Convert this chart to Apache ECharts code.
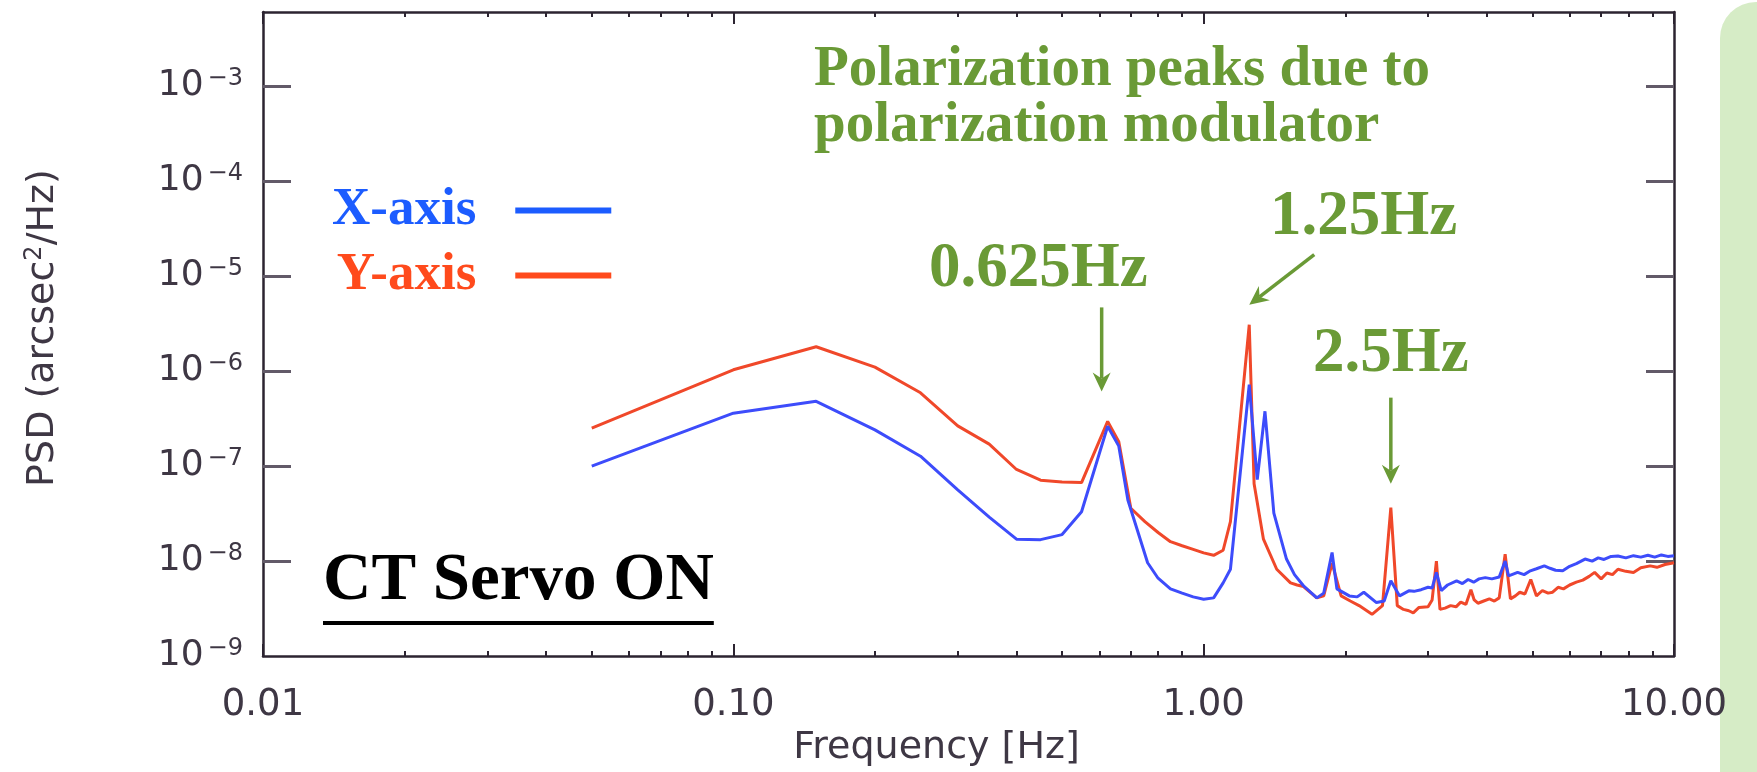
<!DOCTYPE html>
<html>
<head>
<meta charset="utf-8">
<title>Pointing jitter PSD – CT Servo ON</title>
<script src="https://cdn.jsdelivr.net/npm/echarts@6/dist/echarts.min.js"></script>
<style>
  html, body { margin: 0; padding: 0; background: #ffffff; }
  #chart { width: 1757px; height: 772px; }
</style>
</head>
<body>
<div id="chart"></div>
<script>
// ---- data: power spectral density of the pointing error [arcsec^2/Hz] ----
const xAxisFreq = [0.05, 0.10, 0.15, 0.20, 0.25, 0.30, 0.35, 0.40, 0.45, 0.50, 0.55, 0.625, 0.66, 0.69, 0.76, 0.80, 0.85, 0.90, 0.95, 1.00, 1.05, 1.10, 1.14, 1.25, 1.30, 1.35, 1.41, 1.50, 1.56, 1.63, 1.74, 1.80, 1.875, 1.92, 2.04, 2.12, 2.19, 2.33, 2.42, 2.50, 2.61, 2.73, 2.80, 2.90, 3.00, 3.06, 3.125, 3.20, 3.30, 3.45, 3.55, 3.65, 3.75, 3.85, 3.97, 4.10, 4.25, 4.375, 4.45, 4.55, 4.65, 4.80, 4.95, 5.10, 5.30, 5.45, 5.60, 5.80, 6.00, 6.20, 6.47, 6.70, 6.90, 7.10, 7.35, 7.60, 7.90, 8.20, 8.50, 8.80, 9.10, 9.40, 9.70, 10.0];
const xAxisPsd = [1.0e-7, 3.6e-7, 4.8e-7, 2.4e-7, 1.27e-7, 5.6e-8, 2.9e-8, 1.7e-8, 1.68e-8, 1.9e-8, 3.3e-8, 2.62e-7, 1.62e-7, 4.4e-8, 9.6e-9, 6.6e-9, 5.1e-9, 4.6e-9, 4.2e-9, 3.96e-9, 4.1e-9, 5.9e-9, 8.2e-9, 7.2e-7, 7.2e-8, 3.77e-7, 3.2e-8, 1.05e-8, 7.2e-9, 5.5e-9, 4.1e-9, 4.6e-9, 1.23e-8, 5.1e-9, 4.3e-9, 4.2e-9, 4.7e-9, 3.66e-9, 3.8e-9, 6.2e-9, 4.3e-9, 4.86e-9, 4.8e-9, 5.0e-9, 5.3e-9, 5.2e-9, 7.6e-9, 4.9e-9, 5.6e-9, 6.2e-9, 5.8e-9, 6.4e-9, 6.0e-9, 6.5e-9, 6.7e-9, 6.5e-9, 6.8e-9, 1.0e-8, 7.0e-9, 7.3e-9, 7.6e-9, 7.2e-9, 7.9e-9, 8.3e-9, 8.9e-9, 8.4e-9, 8.0e-9, 7.9e-9, 8.8e-9, 9.4e-9, 1.05e-8, 1.0e-8, 1.08e-8, 1.04e-8, 1.12e-8, 1.13e-8, 1.08e-8, 1.14e-8, 1.1e-8, 1.15e-8, 1.1e-8, 1.16e-8, 1.12e-8, 1.14e-8];

const yAxisFreq = [0.05, 0.10, 0.15, 0.20, 0.25, 0.30, 0.35, 0.40, 0.45, 0.50, 0.55, 0.625, 0.66, 0.70, 0.75, 0.80, 0.85, 0.90, 0.95, 1.00, 1.05, 1.10, 1.14, 1.25, 1.28, 1.34, 1.43, 1.53, 1.58, 1.63, 1.74, 1.80, 1.875, 1.96, 2.05, 2.14, 2.28, 2.40, 2.50, 2.58, 2.66, 2.73, 2.79, 2.87, 3.00, 3.06, 3.125, 3.18, 3.26, 3.35, 3.44, 3.52, 3.61, 3.70, 3.76, 3.83, 3.94, 4.05, 4.15, 4.25, 4.375, 4.49, 4.60, 4.70, 4.82, 4.96, 5.10, 5.25, 5.40, 5.52, 5.67, 5.82, 6.00, 6.20, 6.40, 6.60, 6.78, 7.00, 7.20, 7.40, 7.60, 7.90, 8.20, 8.50, 8.90, 9.20, 9.57, 10.0];
const yAxisPsd = [2.5e-7, 1.03e-6, 1.8e-6, 1.1e-6, 5.9e-7, 2.65e-7, 1.7e-7, 9.2e-8, 7.1e-8, 6.8e-8, 6.7e-8, 2.95e-7, 1.8e-7, 3.6e-8, 2.6e-8, 2.0e-8, 1.6e-8, 1.45e-8, 1.33e-8, 1.22e-8, 1.15e-8, 1.3e-8, 2.6e-8, 3.07e-6, 6.5e-8, 1.7e-8, 8.2e-9, 5.9e-9, 5.6e-9, 5.4e-9, 4.1e-9, 4.3e-9, 9.5e-9, 4.3e-9, 3.8e-9, 3.4e-9, 2.75e-9, 3.4e-9, 3.65e-8, 3.4e-9, 3.1e-9, 3.0e-9, 2.85e-9, 3.25e-9, 3.3e-9, 3.9e-9, 1.0e-8, 3.1e-9, 3.2e-9, 3.4e-9, 3.3e-9, 3.7e-9, 3.5e-9, 5.0e-9, 3.9e-9, 3.6e-9, 3.8e-9, 4.0e-9, 3.8e-9, 4.1e-9, 1.18e-8, 4.0e-9, 4.3e-9, 4.7e-9, 4.5e-9, 6.4e-9, 4.3e-9, 4.9e-9, 4.6e-9, 4.7e-9, 5.3e-9, 5.1e-9, 5.6e-9, 6.0e-9, 6.3e-9, 6.9e-9, 7.6e-9, 6.5e-9, 7.5e-9, 7.2e-9, 8.2e-9, 7.8e-9, 7.6e-9, 8.5e-9, 8.9e-9, 8.6e-9, 9.2e-9, 9.6e-9];

// modulator harmonics called out on the plot
const peakFreqs = [0.625, 1.25, 2.5];
const peakLabels = ['0.625Hz', '1.25Hz', '2.5Hz'];

// axis ranges and ticks
const freqRange = [0.01, 10];
const psdRange = [1e-9, 6e-3];
const freqMajor = [0.01, 0.1, 1, 10];
const freqMinorSteps = [2, 3, 4, 5, 6, 7, 8, 9];
const psdDecades = [-9, -8, -7, -6, -5, -4, -3];

const log10 = Math.log10;
const toPairs = (fs, vs) => fs.map((f, i) => [log10(f), log10(vs[i])]);

// minor ticks at 2..9 within each frequency decade (in log10 units)
const minorTicks = [];
freqMajor.slice(0, -1).forEach(d => freqMinorSteps.forEach(m => minorTicks.push(log10(d * m))));

const AXIS_COLOR = '#2c2431';
const LABEL_COLOR = '#3e3744';
const SANS = "'DejaVu Sans', sans-serif";
const SERIF = "'Liberation Serif', 'DejaVu Serif', serif";
const GREEN = '#6a9a36';
const BLUE = '#3d4cfb';
const RED = '#f0482a';

const grid = { left: 263, top: 12, width: 1411, height: 645 };

function freqAxis(position, major, showLabel) {
  return {
    type: 'value', position, min: log10(freqRange[0]), max: log10(freqRange[1]),
    interval: 1, splitLine: { show: false },
    axisLine: { show: major, onZero: false, lineStyle: { color: AXIS_COLOR, width: 2.5 } },
    axisTick: major
      ? { show: true, inside: true, length: 12, lineStyle: { color: AXIS_COLOR, width: 2 },
          customValues: freqMajor.map(log10) }
      : { show: true, inside: true, length: 5, lineStyle: { color: AXIS_COLOR, width: 2 },
          customValues: minorTicks },
    axisLabel: {
      show: showLabel, margin: 31, fontFamily: SANS, fontSize: 37, color: LABEL_COLOR,
      customValues: freqMajor.map(log10),
      formatter: v => Math.pow(10, v).toFixed(2)
    }
  };
}

function psdAxis(position, showLabel) {
  return {
    type: 'value', position, min: log10(psdRange[0]), max: log10(psdRange[1]),
    splitLine: { show: false },
    axisLine: { show: true, onZero: false, lineStyle: { color: AXIS_COLOR, width: 2.5 } },
    axisTick: { show: true, inside: true, length: 28, lineStyle: { color: '#625a68', width: 3 },
                customValues: psdDecades.slice(1) },
    axisLabel: {
      show: showLabel, margin: 20, customValues: psdDecades,
      formatter: v => '{b|10}{s|\u2212' + Math.round(-v) + '}',
      rich: {
        b: { fontFamily: SANS, fontSize: 36, color: LABEL_COLOR, lineHeight: 38 },
        s: { fontFamily: SANS, fontSize: 24, color: LABEL_COLOR, verticalAlign: 'top', lineHeight: 38, padding: [0, 0, 14, 4] }
      }
    },
    name: showLabel ? 'PSD (arcsec{sup|2}/Hz)' : '',
    nameLocation: 'middle', nameGap: 200, nameRotate: 90,
    nameTextStyle: {
      fontFamily: SANS, fontSize: 38, color: LABEL_COLOR, padding: [0, 0, 0, 12],
      rich: { sup: { fontFamily: SANS, fontSize: 24, color: LABEL_COLOR, verticalAlign: 'top', padding: [0, 0, 16, 0] } }
    }
  };
}

const bottomMajor = freqAxis('bottom', true, true);
bottomMajor.name = 'Frequency [Hz]';
bottomMajor.nameLocation = 'middle';
bottomMajor.nameGap = 66;
bottomMajor.nameTextStyle = { fontFamily: SANS, fontSize: 38, color: LABEL_COLOR, padding: [0, 64, 0, 0] };

const option = {
  animation: false,
  backgroundColor: '#ffffff',
  grid,
  xAxis: [bottomMajor, freqAxis('bottom', false, false), freqAxis('top', true, false), freqAxis('top', false, false)],
  yAxis: [psdAxis('left', true), psdAxis('right', false)],
  legend: {
    orient: 'vertical', left: 332, top: 184, padding: 0, itemGap: 12,
    align: 'right', icon: 'rect', itemWidth: 96, itemHeight: 6,
    textStyle: { fontFamily: SERIF, fontWeight: 'bold', fontSize: 53, padding: [0, 34, 0, 0] },
    data: [
      { name: 'X-axis', textStyle: { color: '#1c5cff' }, itemStyle: { color: '#1c5cff' } },
      { name: 'Y-axis', textStyle: { color: '#ff4a1c' }, itemStyle: { color: '#ff4a1c' } }
    ]
  },
  series: [
    { name: 'Y-axis', type: 'line', xAxisIndex: 0, yAxisIndex: 0, data: toPairs(yAxisFreq, yAxisPsd),
      showSymbol: false, symbol: 'none', lineStyle: { color: RED, width: 3 }, itemStyle: { color: RED }, z: 3 },
    { name: 'X-axis', type: 'line', xAxisIndex: 0, yAxisIndex: 0, data: toPairs(xAxisFreq, xAxisPsd),
      showSymbol: false, symbol: 'none', lineStyle: { color: BLUE, width: 3 }, itemStyle: { color: BLUE }, z: 4 }
  ]
};

const chart = echarts.init(document.getElementById('chart'), null, { renderer: 'canvas' });
chart.setOption(option);

// ---- annotations: arrows anchored to the harmonic peaks ----
function peakPixel(freq) {
  // tallest of the two spectra at the harmonic
  const vx = xAxisPsd[xAxisFreq.indexOf(freq)];
  const vy = yAxisPsd[yAxisFreq.indexOf(freq)];
  return chart.convertToPixel({ xAxisIndex: 0, yAxisIndex: 0 }, [log10(freq), log10(Math.max(vx, vy))]);
}

function arrow(x1, y1, x2, y2) {
  const dx = x2 - x1, dy = y2 - y1, len = Math.hypot(dx, dy);
  const ux = dx / len, uy = dy / len, px = -uy, py = ux;
  const headL = 19, headW = 9, notch = 13;
  return [
    { type: 'line', shape: { x1, y1, x2: x2 - ux * notch, y2: y2 - uy * notch },
      style: { stroke: GREEN, lineWidth: 3.5 } },
    { type: 'polygon', shape: { points: [
        [x2, y2],
        [x2 - ux * headL + px * headW, y2 - uy * headL + py * headW],
        [x2 - ux * notch, y2 - uy * notch],
        [x2 - ux * headL - px * headW, y2 - uy * headL - py * headW]
      ] }, style: { fill: GREEN } }
  ];
}

const p0 = peakPixel(peakFreqs[0]);
const p1 = peakPixel(peakFreqs[1]);
const p2 = peakPixel(peakFreqs[2]);

const titleFont = 'bold 67px ' + SERIF;
const measure = document.createElement('canvas').getContext('2d');
measure.font = titleFont;
const servoText = 'CT Servo ON';
const servoWidth = measure.measureText(servoText).width;

const greenText = (text, x, y, size) => ({
  type: 'text', x, y,
  style: { text, fill: GREEN, font: 'bold ' + size + 'px ' + SERIF, align: 'left', verticalAlign: 'middle' }
});

chart.setOption({
  graphic: [
    // side panel of the slide
    { type: 'rect', z: -10, shape: { x: 1720, y: 2, width: 80, height: 800, r: [36, 0, 0, 0] },
      style: { fill: '#d6ecc6' } },
    greenText('Polarization peaks due to', 814, 70, 57),
    greenText('polarization modulator', 814, 126, 57),
    greenText(peakLabels[0], 929, 270, 63),
    greenText(peakLabels[1], 1270, 218, 63),
    greenText(peakLabels[2], 1313, 355, 63),
    ...arrow(p0[0] - 6, p0[1] - 114, p0[0] - 6, p0[1] - 30),
    ...arrow(p1[0] + 65, p1[1] - 70, p1[0], p1[1] - 20),
    ...arrow(p2[0], p2[1] - 110, p2[0], p2[1] - 24),
    { type: 'text', x: 323, y: 615,
      style: { text: servoText, fill: '#000000', font: titleFont, align: 'left', verticalAlign: 'bottom' } },
    { type: 'line', shape: { x1: 323, y1: 623, x2: 323 + servoWidth, y2: 623 },
      style: { stroke: '#000000', lineWidth: 4 } }
  ]
});
</script>
</body>
</html>
